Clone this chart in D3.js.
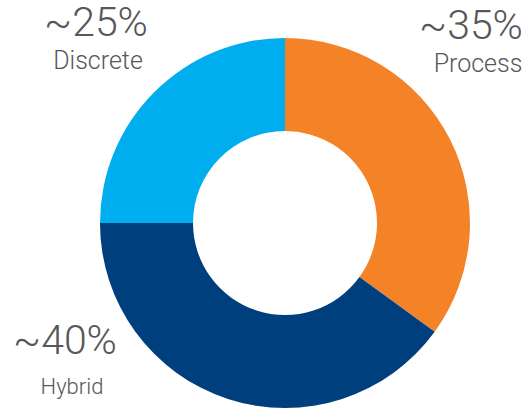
<!DOCTYPE html>
<html>
<head>
<meta charset="utf-8">
<script src="https://cdn.jsdelivr.net/npm/d3@7"></script>
<style>
    body { margin: 0; background: #fff; }
    text { font-family: Roboto, "Noto Sans", sans-serif; fill: #575757; }
</style>
</head>
<body>
<div id="chart"></div>
<script>
const categories = ["Process", "Hybrid", "Discrete"];
const shares = [35, 40, 25];
const shareLabels = ["~35%", "~40%", "~25%"];
const colors = ["#f48226", "#003f7d", "#00adee"];

const width = 528;
const height = 410;
const cx = 285, cy = 223;
const outerR = 185, innerR = 92;

// where each label block sits (pct x, name x, pct baseline, name baseline, name size)
const labelPos = [
    { px: 471, nx: 478, py: 39, ny: 72, ns: 25 },
    { px: 65, nx: 72, py: 354, ny: 394, ns: 22 },
    { px: 96, nx: 98, py: 36, ny: 69, ns: 25 },
];

const svg = d3.select("#chart")
    .append("svg")
    .attr("width", width)
    .attr("height", height);

const pie = d3.pie().sort(null).value((d) => d);
const arc = d3.arc().innerRadius(innerR).outerRadius(outerR);

const g = svg.append("g").attr("transform", `translate(${cx},${cy})`);

g.selectAll("path")
    .data(pie(shares))
    .enter()
    .append("path")
    .attr("d", arc)
    .attr("fill", (d, i) => colors[i]);

const labels = svg.selectAll(".lbl")
    .data(categories)
    .enter()
    .append("g")
    .attr("class", "lbl");

labels.append("text")
    .attr("x", (d, i) => labelPos[i].px)
    .attr("y", (d, i) => labelPos[i].py)
    .attr("text-anchor", "middle")
    .attr("font-size", "41px")
    .attr("font-weight", 300)
    .text((d, i) => shareLabels[i]);

labels.append("text")
    .attr("x", (d, i) => labelPos[i].nx)
    .attr("y", (d, i) => labelPos[i].ny)
    .attr("text-anchor", "middle")
    .attr("font-size", (d, i) => labelPos[i].ns + "px")
    .attr("font-weight", 300)
    .text((d) => d);
</script>
</body>
</html>
